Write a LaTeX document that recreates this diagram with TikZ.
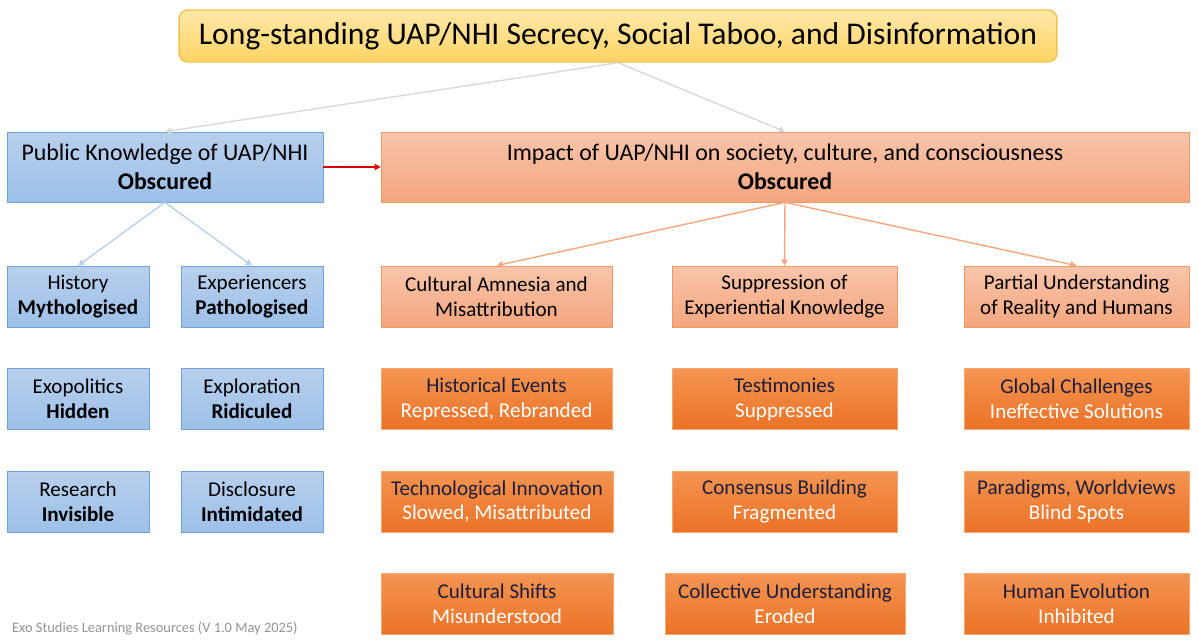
\documentclass[tikz,border=0pt]{standalone}
\usepackage{fontspec}
\setmainfont{Carlito}
\usetikzlibrary{arrows.meta}

\definecolor{titletop}{HTML}{FFE8A6}
\definecolor{titlebot}{HTML}{FFD466}
\definecolor{titleline}{HTML}{F3C14A}
\definecolor{bluetop}{HTML}{B9CFEC}
\definecolor{bluebot}{HTML}{9CC0E9}
\definecolor{blueline}{HTML}{6FA2D8}
\definecolor{salmontop}{HTML}{F8C5AB}
\definecolor{salmonbot}{HTML}{F4A67E}
\definecolor{salmonline}{HTML}{EE9868}
\definecolor{orangetop}{HTML}{F49552}
\definecolor{orangebot}{HTML}{EB7226}
\definecolor{orangeline}{HTML}{F3A873}
\definecolor{darktext}{HTML}{1E1E3C}

\begin{document}
\begin{tikzpicture}[x=0.02cm, y=-0.02cm,
    titlebox/.style = {draw=titleline, thick, rounded corners=5pt, top color=titletop, bottom color=titlebot,
                       minimum width=17.56cm, minimum height=1.04cm, inner sep=0pt,
                       font=\fontsize{18}{21}\selectfont},
    mainblue/.style = {draw=blueline, top color=bluetop, bottom color=bluebot,
                       minimum width=6.32cm, minimum height=1.4cm, inner sep=0pt, align=center,
                       font=\fontsize{13.6}{16.8}\selectfont},
    mainsalmon/.style = {mainblue, draw=salmonline, top color=salmontop, bottom color=salmonbot,
                       minimum width=16.16cm},
    bluebox/.style = {draw=blueline, top color=bluetop, bottom color=bluebot,
                      minimum width=2.84cm, minimum height=1.22cm, inner sep=0pt, align=center,
                      font=\fontsize{12}{14.2}\selectfont},
    salmonbox/.style = {bluebox, draw=salmonline, top color=salmontop, bottom color=salmonbot,
                        minimum width=4.5cm},
    orangebox/.style = {bluebox, draw=orangeline, top color=orangetop, bottom color=orangebot,
                        minimum width=4.5cm},
    link/.style = {line width=0.8pt, -{Triangle[length=3.5pt, width=3.5pt]}}
    ]
    \useasboundingbox (0, 0) rectangle (1198, 643);

    % top
    \node[titlebox] (title) at (618, 36) {Long-standing UAP/NHI Secrecy, Social Taboo, and Disinformation};
    \node[mainblue] (public) at (165, 167) {Public Knowledge of UAP/NHI\\\textbf{Obscured}};
    \node[mainsalmon] (impact) at (785, 167) {Impact of UAP/NHI on society, culture, and consciousness\\\textbf{Obscured}};

    % left column
    \node[bluebox] (history) at (78, 296.5) {History\\\textbf{Mythologised}};
    \node[bluebox] (experiencers) at (252, 296.5) {Experiencers\\\textbf{Pathologised}};
    \node[bluebox] (exopolitics) at (78, 399) {Exopolitics\\\textbf{Hidden}};
    \node[bluebox] (exploration) at (252, 399) {Exploration\\\textbf{Ridiculed}};
    \node[bluebox] (research) at (78, 501.5) {Research\\\textbf{Invisible}};
    \node[bluebox] (disclosure) at (252, 501.5) {Disclosure\\\textbf{Intimidated}};

    % right columns
    \node[salmonbox, minimum width=4.62cm] (amnesia) at (496.5, 296.5) {Cultural Amnesia and\\Misattribution};
    \node[salmonbox] (suppression) at (784.5, 296.5) {Suppression of\\Experiential Knowledge};
    \node[salmonbox] (partial) at (1076.5, 296.5) {Partial Understanding\\of Reality and Humans};

    \node[orangebox, minimum width=4.62cm] (events) at (496.5, 399) {\textcolor{darktext}{Historical Events}\\\textcolor{white}{Repressed, Rebranded}};
    \node[orangebox] (testimonies) at (784.5, 399) {\textcolor{darktext}{Testimonies}\\\textcolor{white}{Suppressed}};
    \node[orangebox] (challenges) at (1076.5, 399) {\textcolor{darktext}{Global Challenges}\\\textcolor{white}{Ineffective Solutions}};

    \node[orangebox, minimum width=4.64cm] (innovation) at (497, 501.5) {\textcolor{darktext}{Technological Innovation}\\\textcolor{white}{Slowed, Misattributed}};
    \node[orangebox] (consensus) at (784.5, 501.5) {\textcolor{darktext}{Consensus Building}\\\textcolor{white}{Fragmented}};
    \node[orangebox] (paradigms) at (1076.5, 501.5) {\textcolor{darktext}{Paradigms, Worldviews}\\\textcolor{white}{Blind Spots}};

    \node[orangebox, minimum width=4.64cm] (shifts) at (497, 604) {\textcolor{darktext}{Cultural Shifts}\\\textcolor{white}{Misunderstood}};
    \node[orangebox, minimum width=4.8cm] (collective) at (785, 604) {\textcolor{darktext}{Collective Understanding}\\\textcolor{white}{Eroded}};
    \node[orangebox] (evolution) at (1076.5, 604) {\textcolor{darktext}{Human Evolution}\\\textcolor{white}{Inhibited}};

    \node[anchor=west, text=gray!85, font=\fontsize{8.2}{9.5}\selectfont] (footer) at (6, 628) {Exo Studies Learning Resources (V 1.0 May 2025)};

    % connectors
    \draw[link, gray!30] (title.south) -- (public.north);
    \draw[link, gray!30] (title.south) -- (impact.north);
    \draw[link, bluetop] (public.south) -- (history.north);
    \draw[link, bluetop] (public.south) -- (experiencers.north);
    \draw[link, red!85!black] (public.east) -- (impact.west);
    \draw[link, salmonbot] (impact.south) -- (amnesia.north);
    \draw[link, salmonbot] (impact.south) -- (suppression.north);
    \draw[link, salmonbot] (impact.south) -- (partial.north);
\end{tikzpicture}
\end{document}
